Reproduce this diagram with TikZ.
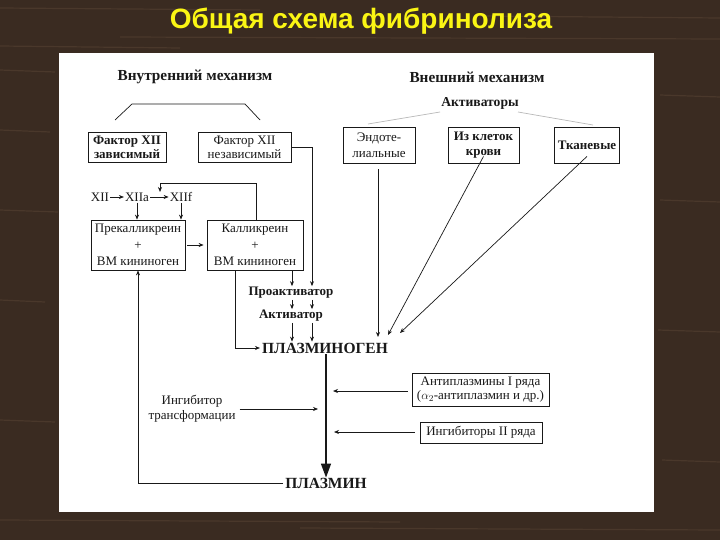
\documentclass[tikz,border=0pt]{standalone}
\usepackage{fontspec}
\setmainfont{Liberation Serif}
\newfontfamily\titlefont{Liberation Sans}
\usetikzlibrary{arrows.meta}
\definecolor{bgbrown}{RGB}{58,43,33}
\definecolor{grain}{RGB}{88,68,52}
\definecolor{ttl}{RGB}{250,245,20}
\definecolor{ink}{RGB}{25,25,25}
\definecolor{faint}{RGB}{185,185,185}
\newcommand{\fsz}{\fontsize{13}{14.5}\selectfont}
\newcommand{\fszl}{\fontsize{13}{16.5}\selectfont}
\newcommand{\fhd}{\fontsize{15.3}{17}\selectfont\bfseries}
\begin{document}
\begin{tikzpicture}[x=1pt,y=-1pt,
  every node/.style={text=ink},
  box/.style={draw=ink, line width=0.8pt, inner sep=0pt, align=center, font=\fsz},
  lbl/.style={inner sep=1pt, align=center, font=\fsz},
  hd/.style={inner sep=1pt, font=\fhd},
  sub/.style={inner sep=1pt, font=\fontsize{13}{15}\selectfont\bfseries},
  big/.style={inner sep=1pt, font=\fontsize{15.5}{17}\selectfont\bfseries},
  arr/.style={draw=ink, line width=0.7pt, -{Stealth[length=5pt,width=4pt]}},
  ln/.style={draw=ink, line width=0.7pt},
  bigarr/.style={draw=ink, line width=1.4pt, -{Triangle[length=14pt,width=10pt]}}]
\useasboundingbox (0,0) rectangle (720,540);
\fill[bgbrown] (0,0) rectangle (720,540);
% subtle wood grain
\foreach \yy/\xa/\xb in {8/0/260, 37/120/720, 46/0/180, 70/0/55, 130/0/50, 210/0/58, 300/0/45,
  420/0/55, 520/0/400, 528/300/720, 200/660/720, 330/658/720, 460/662/720, 95/660/720, 16/480/720}
  \draw[grain, opacity=0.55, line width=1.2pt] (\xa,\yy) -- (\xb,\yy+2);
\fill[white] (59,53) rectangle (654,512);
\node[text=ttl, font=\titlefont\fontsize{28}{30}\selectfont\bfseries] (title) at (361,21) {Общая схема фибринолиза};

% headings
\node[hd] (inner) at (195,77) {Внутренний механизм};
\node[hd] (outer) at (477,77) {Внешний механизм};
\node[inner sep=1pt, font=\fontsize{13.6}{15}\selectfont\bfseries] (act) at (480,103) {Активаторы};

% top boxes
\node[box, font=\fsz\bfseries, minimum width=78pt, minimum height=30pt] (f1) at (127,147.5) {Фактор XII\\зависимый};
\node[box, minimum width=93pt, minimum height=30pt] (f2) at (244.5,147.5) {Фактор XII\\независимый};
\node[box, font=\fontsize{13}{16}\selectfont, minimum width=72pt, minimum height=36pt] (e1) at (379,145) {Эндоте-\\лиальные};
\node[box, font=\fsz\bfseries, minimum width=71pt, minimum height=36pt] (e2) at (483.5,145) {Из клеток\\крови};
\node[box, font=\fsz\bfseries, minimum width=65pt, minimum height=36pt] (e3) at (587,145) {Тканевые};

% bracket for inner mechanism
\coordinate (b1) at (115,120);
\coordinate (b2) at (132,104);
\coordinate (b3) at (245,104);
\coordinate (b4) at (260,120);
\draw[ln] (b1) -- (b2) -- (b3) -- (b4);
% faint lines for activators
\coordinate (a1) at (368,124);
\coordinate (a2) at (440,112);
\coordinate (a3) at (518,112);
\coordinate (a4) at (593,125);
\draw[faint, line width=0.7pt] (a2) -- (a1);
\draw[faint, line width=0.7pt] (a3) -- (a4);

% XII chain
\node[lbl] (xii) at (100,197) {XII};
\node[lbl] (xiia) at (137,197) {XIIa};
\node[lbl] (xiif) at (181,197) {XIIf};
\draw[arr] (xii) -- (xiia);
\draw[arr] (xiia) -- (xiif);

% middle boxes
\node[box, font=\fszl, minimum width=94pt, minimum height=50pt] (pk) at (138,245) {Прекалликреин\\+\\ВМ кининоген};
\node[box, font=\fszl, minimum width=96pt, minimum height=50pt] (kk) at (255,245) {Калликреин\\+\\ВМ кининоген};
\draw[arr] (xiia.south) -- (xiia.south |- pk.north);
\draw[arr] (xiif.south) -- (xiif.south |- pk.north);
\draw[arr] ([xshift=2pt]pk.east) -- ([xshift=-3pt]kk.west);
\coordinate (fb) at (160,183);
\draw[arr] ([xshift=1pt]kk.north) |- (fb) -- ++(0,9);

% activator cascade
\node[sub] (pro) at (291,293) {Проактиватор};
\node[sub] (akt) at (291,316) {Активатор};
\node[big] (pg) at (325,348) {ПЛАЗМИНОГЕН};
\node[big] (pl) at (326,483) {ПЛАЗМИН};

\coordinate (cA) at (292,0);
\coordinate (cB) at (312,0);
\draw[arr] (f2.east) -| (cB |- pro.north);
\draw[arr] (kk.south -| cA) -- (cA |- pro.north);
\draw[arr] (cA |- pro.south) -- (cA |- akt.north);
\draw[arr] (cB |- pro.south) -- (cB |- akt.north);
\draw[arr] (cA |- akt.south) -- (cA |- pg.north);
\draw[arr] (cB |- akt.south) -- (cB |- pg.north);

% external activators to plasminogen
\coordinate (t1) at (378,337);
\coordinate (t2) at (388,335);
\coordinate (t3) at (400,333);
\draw[arr, shorten <=6pt] (e1.south -| t1) -- (t1);
\draw[arr] ([yshift=7pt]e2.south) -- (t2);
\draw[arr] ([yshift=7pt]e3.south) -- (t3);

% kallikrein to plasminogen
\draw[arr] ([xshift=-20pt]kk.south) |- ([xshift=-1pt]pg.west);

% main conversion
\draw[bigarr] ([xshift=1pt]pg.south) -- ([xshift=1pt,yshift=-1pt]pg.south |- pl.north);

% plasmin feedback
\draw[arr] ([xshift=-1pt]pl.west) -| (pk.south);

% inhibitors
\node[lbl] (inh) at (192,408.5) {Ингибитор\\трансформации};
\node[box, minimum width=137pt, minimum height=33pt] (ap) at (480.5,389.5) {Антиплазмины I ряда\\($\alpha_2$-антиплазмин и др.)};
\node[box, minimum width=122pt, minimum height=21pt] (i2) at (481,432.5) {Ингибиторы II ряда};
\coordinate (m1) at (318,409);
\coordinate (m2) at (333,391);
\coordinate (m3) at (334,432);
\draw[arr] ([xshift=3pt]inh.east |- m1) -- (m1);
\draw[arr] ([xshift=-4pt]ap.west |- m2) -- (m2);
\draw[arr] ([xshift=-5pt]i2.west |- m3) -- (m3);
\end{tikzpicture}
\end{document}
